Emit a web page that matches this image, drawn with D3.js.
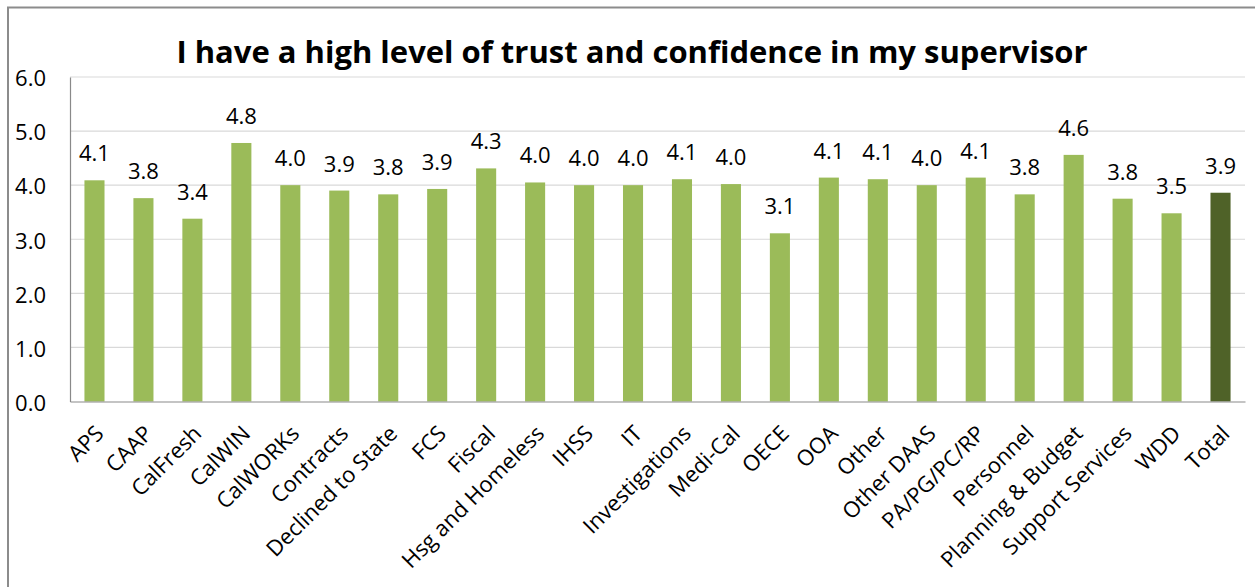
<!DOCTYPE html>
<html>
<head>
<meta charset="utf-8">
<script src="https://cdn.jsdelivr.net/npm/d3@7"></script>
<style>
  body { margin: 0; background: #fff; }
  text { font-family: "Open Sans", "Noto Sans", sans-serif; }
</style>
</head>
<body>
<script>
// survey answers, mean score per division
const categories = ["APS","CAAP","CalFresh","CalWIN","CalWORKs","Contracts","Declined to State","FCS","Fiscal",
  "Hsg and Homeless","IHSS","IT","Investigations","Medi-Cal","OECE","OOA","Other","Other DAAS","PA/PG/PC/RP",
  "Personnel","Planning & Budget","Support Services","WDD","Total"];
const scores = [4.09,3.76,3.38,4.78,4.0,3.9,3.83,3.93,4.31,4.05,4.0,4.0,4.11,4.02,3.11,4.14,4.11,4.0,4.14,
  3.83,4.56,3.75,3.48,3.86];
const yTicks = [0,1,2,3,4,5,6];
const title = "I have a high level of trust and confidence in my supervisor";

const width = 1255, height = 587;
const plotLeft = 70, plotRight = 1245, plotTop = 77, plotBottom = 401.5;
const fs = 22;

const svg = d3.select("body").append("svg")
  .attr("width", width)
  .attr("height", height);

// outer frame of the pasted chart
svg.append("rect")
  .attr("x", 8).attr("y", 7.5)
  .attr("width", 1400).attr("height", 700)
  .attr("fill", "none")
  .attr("stroke", "#8c8c8c")
  .attr("stroke-width", 2);

const x = d3.scaleBand()
  .domain(categories)
  .range([plotLeft, plotRight])
  .paddingInner(0.59)
  .paddingOuter(0.295);

const y = d3.scaleLinear()
  .domain([0, 6])
  .range([plotBottom, plotTop]);

// gridlines
svg.append("g")
  .selectAll("line")
  .data(yTicks.slice(1))
  .enter().append("line")
  .attr("x1", plotLeft).attr("x2", plotRight)
  .attr("y1", d => y(d)).attr("y2", d => y(d))
  .style("stroke", "#d9d9d9")
  .style("stroke-width", 1.2);

// y axis
const yAxis = svg.append("g")
  .attr("transform", `translate(${plotLeft},0)`)
  .call(d3.axisLeft(y).tickValues(yTicks).tickFormat(d3.format(".1f")).tickSize(0).tickPadding(24));
yAxis.select(".domain").style("stroke", "#898989").style("stroke-width", 1.2);
yAxis.selectAll("text")
  .attr("font-size", fs)
  .attr("fill", "#000")
  .attr("dy", "0.4em")
  .style("font-family", "Open Sans");

// bars
svg.append("g")
  .selectAll("rect")
  .data(categories)
  .enter().append("rect")
  .attr("x", d => x(d))
  .attr("width", x.bandwidth())
  .attr("y", (d, i) => y(scores[i]))
  .attr("height", (d, i) => y(0) - y(scores[i]))
  .style("fill", d => d == "Total" ? "#4f6228" : "#9bbb59");

// x axis
const xAxis = svg.append("g")
  .attr("transform", `translate(0,${plotBottom})`)
  .call(d3.axisBottom(x).tickSize(0).tickPadding(0));
xAxis.select(".domain").style("stroke", "#898989").style("stroke-width", 1.2);
xAxis.selectAll("text")
  .attr("font-size", fs)
  .attr("fill", "#000")
  .style("font-family", "Open Sans")
  .style("text-anchor", "end")
  .attr("dy", "0.35em")
  .attr("transform", "translate(5,28) rotate(-45)");

// data labels
svg.append("g")
  .selectAll("text")
  .data(categories)
  .enter().append("text")
  .attr("x", d => x(d) + x.bandwidth() / 2)
  .attr("y", (d, i) => y(scores[i]) - 19)
  .attr("text-anchor", "middle")
  .attr("font-size", fs)
  .attr("fill", "#000")
  .text((d, i) => d3.format(".1f")(scores[i]));

// title
svg.append("text")
  .attr("x", 632)
  .attr("y", 63)
  .attr("text-anchor", "middle")
  .attr("font-size", 31)
  .attr("font-weight", "bold")
  .attr("fill", "#000")
  .text(title);
</script>
</body>
</html>
